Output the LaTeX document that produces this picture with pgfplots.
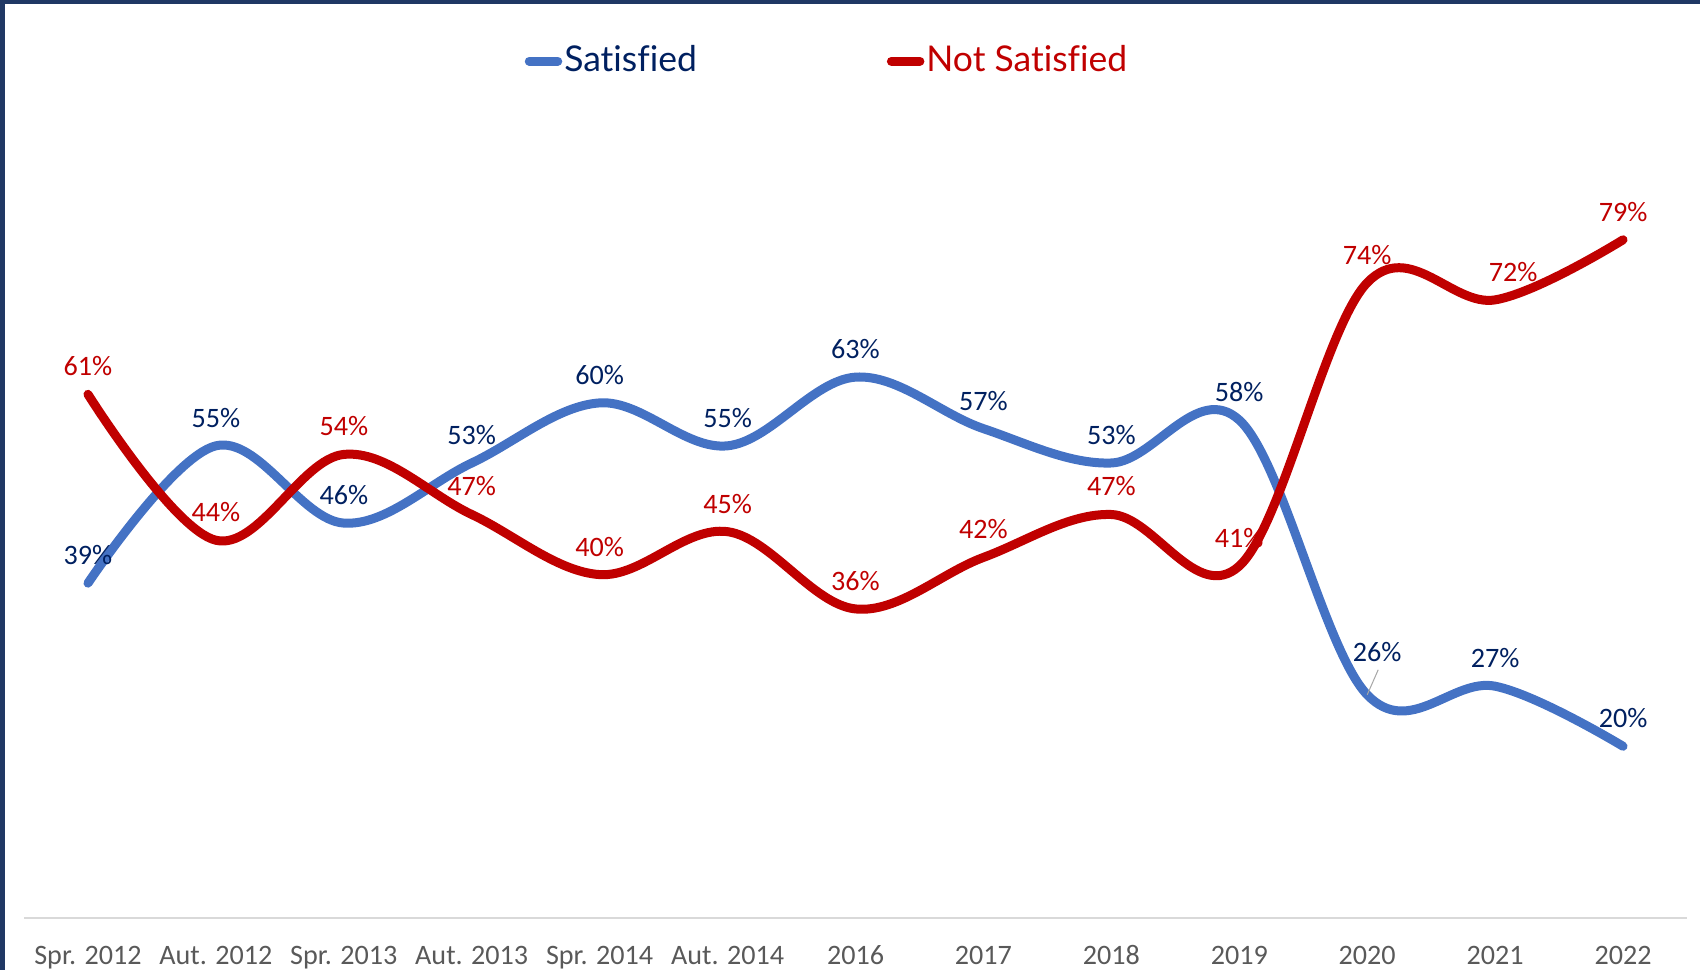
\documentclass[border=0pt]{standalone}
\usepackage{fontspec}
\setmainfont{Carlito}
\newfontfamily\legendfont[Ligatures=NoCommon]{Lato}
\usepackage{pgfplots}
\pgfplotsset{compat=1.18}
\usepackage{pgfplotstable}
\definecolor{satblue}{HTML}{4472C4}
\definecolor{notred}{HTML}{C00000}
\definecolor{navy}{HTML}{002060}
\definecolor{framecol}{HTML}{203864}
\definecolor{tickgray}{HTML}{595959}
\definecolor{axisgray}{HTML}{D9D9D9}

\pgfplotstableread{
x y dx dy
0 39 0 28
1 55 0 28
2 46 0 28
3 53 0 28
4 60 0 28
5 55 0 28
6 63 0 28
7 57 0 28
8 53 0 28
9 58 0 28
10 26 10 43
11 27 0 28
12 20 0 28
}\satdata

\pgfplotstableread{
x y dx dy
0 61 0 28
1 44 0 28
2 54 0 28
3 47 0 28
4 40 0 28
5 45 0 28
6 36 0 28
7 42 0 28
8 47 0 28
9 41 0 28
10 74 0 28
11 72 18 28
12 79 0 28
}\notdata

\begin{document}
\begin{tikzpicture}
\path[use as bounding box] (-0.24cm,-0.52cm) rectangle (16.76cm,9.18cm);
\begin{axis}[
  at={(0,0)}, anchor=south west,
  scale only axis, width=16.63cm, height=8.585cm,
  xmin=-0.5, xmax=12.5, ymin=0, ymax=100,
  hide y axis,
  axis x line*=bottom,
  x axis line style={axisgray, line width=0.015cm},
  xtick={0,...,12},
  xticklabels={Spr. 2012, Aut. 2012, Spr. 2013, Aut. 2013, Spr. 2014, Aut. 2014, 2016, 2017, 2018, 2019, 2020, 2021, 2022},
  major tick length=0pt,
  xticklabel style={text=tickgray, font=\fontsize{8}{9.6}\selectfont, anchor=base, yshift=-0.46cm},
  clip=false,
  legend columns=2,
  legend style={draw=none, fill=none, at={(0.3007,0.998)}, anchor=west,
    font=\legendfont\fontsize{10.1}{12}\selectfont,
    /tikz/every even column/.append style={column sep=1.88cm},
    inner xsep=0pt, inner ysep=0pt, nodes={inner xsep=0.02cm}},
]
\addplot[satblue, line width=0.09cm, smooth, tension=0.6, line cap=round, line join=round,
  nodes near coords, point meta=explicit symbolic,
  visualization depends on={\thisrow{dx} \as \dx},
  visualization depends on={\thisrow{dy} \as \dy},
  nodes near coords style={anchor=center, xshift=0.01cm*\dx, yshift=0.01cm*\dy, text=navy, font=\fontsize{8}{9.6}\selectfont},
  nodes near coords={\pgfplotspointmeta\%},
  legend image code/.code={\draw[satblue, line width=0.09cm, line cap=round] (0.045cm,0cm) -- (0.33cm,0cm);}
] table[x=x, y=y, meta=y] {\satdata};
\addlegendentry{\textcolor{navy}{Satisfied}}
\addplot[notred, line width=0.09cm, smooth, tension=0.6, line cap=round, line join=round,
  nodes near coords, point meta=explicit symbolic,
  visualization depends on={\thisrow{dx} \as \dx},
  visualization depends on={\thisrow{dy} \as \dy},
  nodes near coords style={anchor=center, xshift=0.01cm*\dx, yshift=0.01cm*\dy, text=notred, font=\fontsize{8}{9.6}\selectfont},
  nodes near coords={\pgfplotspointmeta\%},
  legend image code/.code={\draw[notred, line width=0.09cm, line cap=round] (0.045cm,0cm) -- (0.33cm,0cm);}
] table[x=x, y=y, meta=y] {\notdata};
\addlegendentry{\textcolor{notred}{Not Satisfied}}
\draw[gray!70, line width=0.01cm] (axis cs:10,26) -- ++(0.11cm,0.25cm);
\end{axis}
\fill[framecol] (-0.24cm,9.14cm) rectangle (16.76cm,9.18cm);
\fill[framecol] (-0.24cm,-0.52cm) rectangle (-0.185cm,9.18cm);
\end{tikzpicture}
\end{document}
